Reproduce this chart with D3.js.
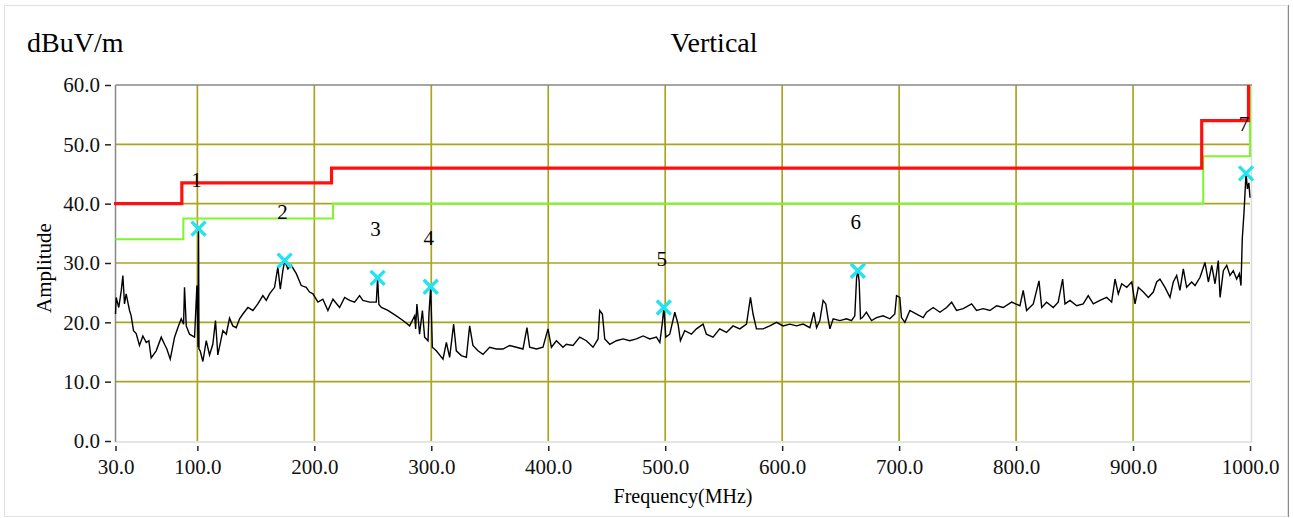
<!DOCTYPE html>
<html>
<head>
<meta charset="utf-8">
<script src="https://cdn.jsdelivr.net/npm/d3@7"></script>
<style>
  body { margin: 0; background: #fff; }
</style>
</head>
<body>
<script>
const traceFreq = [
  30.0, 30.6, 32.8, 34.9, 36.3, 37.7, 39.1, 42.0, 43.4, 45.4, 47.7, 50.5, 53.4, 56.3, 58.5,
  60.5, 64.8, 69.1, 71.9, 73.9, 76.8, 80.5, 83.3, 86.2, 88.2, 89.0, 90.5, 93.3, 97.6, 99.6,
  100.6, 101.0, 101.4, 102.4, 104.7, 107.6, 110.4, 113.2, 115.5, 117.5, 121.8, 124.7, 127.5,
  130.3, 133.2, 136.1, 138.9, 143.2, 147.5, 151.7, 156.0, 158.9, 161.7, 166.0, 168.8, 170.9,
  173.1, 174.6, 177.4, 180.3, 184.6, 188.8, 193.1, 195.9, 198.8, 203.1, 207.3, 211.6, 215.9,
  221.6, 225.9, 230.2, 234.4, 238.7, 241.5, 247.3, 253.0, 254.1, 255.2, 257.3, 262.9, 270.1,
  275.8, 281.5, 285.8, 286.6, 287.7, 290.0, 292.4, 294.3, 297.2, 298.0, 299.5, 300.9, 304.3,
  310.0, 312.9, 315.7, 319.1, 321.4, 325.7, 330.0, 332.8, 335.6, 339.9, 344.2, 349.9, 355.6,
  361.3, 367.0, 372.8, 378.4, 381.8, 384.1, 389.9, 395.5, 399.8, 402.7, 407.0, 412.6, 415.5,
  421.2, 426.9, 432.6, 438.3, 442.6, 444.0, 446.3, 448.3, 452.6, 458.3, 464.0, 469.7, 475.4,
  481.1, 486.8, 492.5, 495.4, 497.6, 498.8, 500.5, 503.9, 508.2, 511.0, 513.0, 516.7, 522.4,
  526.7, 532.4, 535.2, 540.9, 546.6, 552.4, 558.0, 563.8, 569.5, 572.9, 575.1, 578.0, 583.7,
  589.4, 595.2, 600.8, 606.5, 612.3, 617.9, 623.7, 627.1, 629.4, 632.2, 635.0, 637.3, 639.3,
  640.8, 643.6, 649.3, 655.0, 659.3, 662.1, 663.6, 664.7, 665.8, 667.0, 668.6, 672.0, 676.4,
  680.7, 686.3, 692.1, 696.3, 697.8, 700.6, 702.0, 704.9, 709.2, 714.9, 720.6, 723.5, 729.1,
  734.9, 740.6, 744.9, 749.1, 754.8, 762.0, 766.2, 771.9, 777.6, 783.4, 789.0, 796.2, 803.3,
  806.1, 809.0, 814.7, 819.6, 821.9, 826.1, 831.8, 836.0, 839.8, 841.8, 846.1, 851.8, 857.4,
  861.7, 866.0, 871.7, 877.5, 881.7, 884.6, 887.4, 890.3, 894.6, 898.9, 901.7, 904.5, 908.8,
  913.1, 917.3, 920.2, 923.0, 927.3, 931.6, 934.4, 937.3, 940.1, 943.0, 945.8, 950.1, 953.0,
  957.3, 961.5, 964.4, 967.3, 970.1, 972.9, 974.4, 977.2, 980.1, 982.9, 985.7, 988.6, 990.9,
  992.3, 993.4, 994.9, 996.0, 996.6, 997.8, 999.0, 1000.0
];
const traceAmp = [
  21.4, 24.2, 22.5, 25.3, 27.9, 23.1, 24.8, 22.0, 21.1, 18.6, 18.1, 16.1, 17.7, 16.6, 16.9,
  14.0, 15.2, 17.5, 16.3, 15.5, 13.8, 17.5, 19.1, 20.6, 19.7, 25.9, 19.4, 18.0, 17.5, 26.2,
  15.8, 35.8, 15.5, 15.2, 13.4, 16.9, 14.5, 16.3, 20.3, 14.5, 18.6, 18.0, 20.7,
  19.4, 19.1, 20.6, 21.4, 22.5, 22.0, 23.1, 24.5, 23.7, 24.8, 25.9, 29.3, 25.6,
  28.7, 30.4, 29.0, 29.6, 28.2, 26.2, 25.9, 25.1, 24.8, 23.4, 23.9, 22.0, 23.9,
  22.5, 24.2, 23.7, 23.4, 24.5, 23.7, 23.4, 23.4, 27.5, 23.0, 22.5, 22.0, 21.1,
  20.3, 19.4, 21.1, 18.9, 23.1, 18.0, 22.0, 17.5, 16.9, 21.4, 26.0, 15.8, 15.2,
  13.8, 16.6, 14.1, 19.7, 15.2, 14.4, 14.1, 19.4, 16.1, 15.2, 14.6, 15.8, 15.5,
  15.5, 16.1, 15.8, 15.5, 19.1, 15.8, 15.5, 15.8, 18.9, 15.8, 16.9, 15.8, 16.3,
  16.1, 17.5, 16.9, 15.8, 17.2, 22.0, 21.4, 17.2, 16.3, 16.9, 17.2, 16.9, 17.2,
  17.7, 17.2, 17.5, 16.6, 20.0, 22.5, 17.5, 18.0, 21.7, 19.7, 16.9, 18.6, 18.0,
  18.9, 19.7, 18.0, 17.5, 18.9, 18.3, 19.4, 18.9, 19.7, 24.2, 21.4, 18.9, 18.9,
  19.4, 20.0, 19.4, 19.7, 19.4, 19.7, 19.1, 21.7, 19.1, 20.3, 23.7, 23.1, 20.6,
  18.9, 20.6, 20.3, 20.6, 20.3, 21.1, 27.4, 28.7, 27.0, 20.6, 20.8, 21.7, 20.3,
  20.8, 21.1, 20.6, 21.4, 24.5, 24.2, 20.8, 20.0, 22.0, 21.4, 20.8, 21.7, 22.5,
  21.7, 22.5, 23.4, 22.0, 22.3, 23.1, 22.0, 22.3, 22.0, 22.8, 22.5, 23.4, 22.8,
  25.4, 22.0, 23.1, 27.0, 22.5, 23.4, 22.5, 23.4, 27.3, 23.1, 23.7, 22.8, 23.1,
  24.5, 23.1, 23.7, 24.2, 23.4, 27.3, 24.8, 26.5, 25.9, 26.8, 23.1, 25.9, 25.1,
  24.2, 25.1, 26.8, 27.3, 25.9, 24.2, 26.8, 27.9, 25.4, 29.0, 25.9, 26.8, 26.2,
  27.6, 30.1, 26.8, 29.6, 26.5, 30.4, 24.2, 28.7, 29.6, 27.9, 28.7, 27.3, 28.2,
  26.2, 34.1, 38.6, 42.8, 45.1, 42.5, 43.5, 41.0
];

// limit lines (step shape)
const limitFreq   = [30, 88, 88, 216, 216, 960, 960, 1000, 1000];
const limitQP     = [40, 40, 43.5, 43.5, 46, 46, 54, 54, 60];
const limitMargin = [34, 34, 37.5, 37.5, 40, 40, 48, 48, 60];

// peak markers
const markerFreq  = [101.0, 174.6, 254.1, 299.5, 498.8, 664.7, 996.6];
const markerAmp   = [35.8, 30.4, 27.5, 26.0, 22.5, 28.7, 45.1];
const markerNames = ['1', '2', '3', '4', '5', '6', '7'];

const xTicks = [30, 100, 200, 300, 400, 500, 600, 700, 800, 900, 1000];
const yTicks = [0, 10, 20, 30, 40, 50, 60];

const width = 1293;
const height = 518;
const gridColor = '#aaa520';
const serif = '"Liberation Serif", "Times New Roman", serif';

const svg = d3.select('body')
  .append('svg')
  .attr('width', width)
  .attr('height', height);

const x = d3.scaleLinear().domain([30, 1000]).range([115.5, 1250]);
const y = d3.scaleLinear().domain([0, 60]).range([441, 85]);

// outer panel
svg.append('rect')
  .attr('x', 4.5).attr('y', 5.5)
  .attr('width', 1283).attr('height', 511)
  .attr('fill', '#fff')
  .attr('stroke', '#e2e2e2');
svg.append('line')
  .attr('x1', 1288.5).attr('x2', 1288.5)
  .attr('y1', 5).attr('y2', 517)
  .attr('stroke', '#8a8a8a');

// grid
svg.append('g')
  .selectAll('line')
  .data(yTicks.slice(1, -1))
  .join('line')
  .attr('x1', x(30)).attr('x2', x(1000))
  .attr('y1', d => y(d)).attr('y2', d => y(d))
  .attr('stroke', gridColor)
  .attr('stroke-width', 1.7);

svg.append('g')
  .selectAll('line')
  .data(xTicks.slice(1, -1))
  .join('line')
  .attr('x1', d => x(d)).attr('x2', d => x(d))
  .attr('y1', y(0)).attr('y2', y(60))
  .attr('stroke', gridColor)
  .attr('stroke-width', 1.7);

// plot frame
svg.append('line')
  .attr('x1', x(1000) + 1.5).attr('x2', x(1000) + 1.5)
  .attr('y1', y(60)).attr('y2', y(0) + 1)
  .attr('stroke', '#dcdcdc').attr('stroke-width', 1.5);
svg.append('line')
  .attr('x1', x(30)).attr('x2', x(1000) + 2)
  .attr('y1', y(0) + 1).attr('y2', y(0) + 1)
  .attr('stroke', '#dcdcdc').attr('stroke-width', 1.5);
svg.append('line')
  .attr('x1', x(30)).attr('x2', x(1000) + 2)
  .attr('y1', y(60)).attr('y2', y(60))
  .attr('stroke', '#888').attr('stroke-width', 1.5);
svg.append('line')
  .attr('x1', x(30)).attr('x2', x(30))
  .attr('y1', y(60)).attr('y2', y(0) + 1)
  .attr('stroke', '#888').attr('stroke-width', 1.5);

// limit lines
const limitLine = vals => d3.line()
  .x((d, i) => x(limitFreq[i]))
  .y((d, i) => y(vals[i]))(vals);

svg.append('path')
  .attr('d', limitLine(limitMargin))
  .attr('fill', 'none')
  .attr('stroke', '#7cf72a')
  .attr('stroke-width', 2);

svg.append('path')
  .attr('d', limitLine(limitQP))
  .attr('fill', 'none')
  .attr('stroke', '#ff1010')
  .attr('stroke-width', 3.2)
  .attr('transform', 'translate(-1.5,0)');

// trace
const line = d3.line()
  .x((d, i) => x(traceFreq[i]))
  .y((d, i) => y(traceAmp[i]));

svg.append('path')
  .attr('d', line(traceAmp))
  .attr('fill', 'none')
  .attr('stroke', '#000')
  .attr('stroke-width', 1.4)
  .attr('stroke-linejoin', 'miter');

// markers
const mk = svg.append('g')
  .selectAll('g')
  .data(markerFreq)
  .join('g')
  .attr('transform', (d, i) => `translate(${x(d)},${y(markerAmp[i])})`);

mk.append('path')
  .attr('d', 'M-7,-7L7,7M-7,7L7,-7')
  .attr('stroke', '#22e4f0')
  .attr('stroke-width', 3.4)
  .attr('fill', 'none');

mk.append('text')
  .attr('x', -2)
  .attr('y', -42)
  .attr('text-anchor', 'middle')
  .attr('font-size', 21)
  .text((d, i) => markerNames[i]);

// axes
const yAxis = svg.append('g')
  .attr('transform', 'translate(111,0)')
  .call(d3.axisLeft(y).tickValues(yTicks).tickFormat(d3.format('.1f')).tickSize(6).tickPadding(5));

const xAxis = svg.append('g')
  .attr('transform', 'translate(0,446)')
  .call(d3.axisBottom(x).tickValues(xTicks).tickFormat(d3.format('.1f')).tickSize(5).tickPadding(8));

[yAxis, xAxis].forEach(g => {
  g.select('.domain').remove();
  g.selectAll('.tick line').attr('stroke', '#222').attr('stroke-width', 1.5);
  g.selectAll('.tick text')
    .attr('font-size', 21)
    .attr('fill', '#111');
});

// titles
svg.append('text')
  .attr('x', 27).attr('y', 52)
  .attr('font-size', 28)
  .text('dBuV/m');

svg.append('text')
  .attr('x', 714).attr('y', 52)
  .attr('text-anchor', 'middle')
  .attr('font-size', 28)
  .text('Vertical');

svg.append('text')
  .attr('transform', 'translate(51,268) rotate(-90)')
  .attr('text-anchor', 'middle')
  .attr('font-size', 21)
  .text('Amplitude');

svg.append('text')
  .attr('x', 683).attr('y', 503)
  .attr('text-anchor', 'middle')
  .attr('font-size', 20)
  .text('Frequency(MHz)');

// force the serif face on every label
svg.selectAll('text').style('font-family', serif);
</script>
</body>
</html>
